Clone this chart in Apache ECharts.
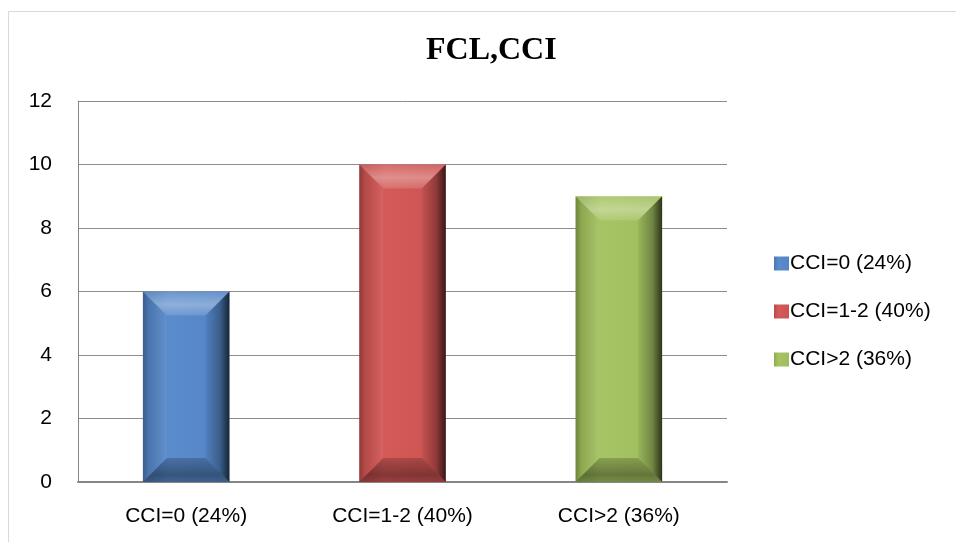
<!DOCTYPE html>
<html>
<head>
<meta charset="utf-8">
<script src="https://cdn.jsdelivr.net/npm/echarts@6/dist/echarts.min.js"></script>
<style>
html,body{margin:0;padding:0;background:#fff;}
#chart{width:956px;height:542px;}
</style>
</head>
<body>
<div id="chart"></div>
<script>
const categories = ['CCI=0 (24%)', 'CCI=1-2 (40%)', 'CCI>2 (36%)'];
const seriesNames = ['CCI=0 (24%)', 'CCI=1-2 (40%)', 'CCI>2 (36%)'];
const values = [6, 10, 9];
const yTicks = [0, 2, 4, 6, 8, 10, 12];
const titleText = 'FCL,CCI';

const faceColors = [
  ['#4a77b2', '#5a8bcb', '#5385c6'],
  ['#b84a48', '#d45a58', '#cc5351'],
  ['#8fab50', '#a6c463', '#9fbd5c']
];

const FONT = 'Liberation Sans';
const BAR_FRAC = 0.4;

function grad(c) {
  return new echarts.graphic.LinearGradient(0, 0, 1, 0, [
    { offset: 0, color: c[0] },
    { offset: 0.3, color: c[1] },
    { offset: 1, color: c[2] }
  ]);
}

const barSeries = seriesNames.map((name, i) => ({
  name: name,
  type: 'bar',
  barWidth: (BAR_FRAC * 100) + '%',
  barGap: '-100%',
  data: categories.map((c, j) => (j === i ? values[j] : '-')),
  itemStyle: { color: grad(faceColors[i]) },
  z: 2
}));

const bevelSeries = {
  name: 'bevel',
  type: 'custom',
  silent: true,
  z: 3,
  data: values.map((v, i) => [i, v]),
  renderItem: function (params, api) {
    const top = api.coord([api.value(0), api.value(1)]);
    const bot = api.coord([api.value(0), 0]);
    const w = api.size([1, 0])[0] * BAR_FRAC;
    const x0 = top[0] - w / 2, x1 = top[0] + w / 2;
    const y0 = top[1], y1 = bot[1];
    const b = Math.min(24, w / 2, (y1 - y0) / 2);
    const L = echarts.graphic.LinearGradient;
    return {
      type: 'group',
      children: [
        {
          type: 'polygon',
          shape: { points: [[x0, y0], [x1, y0], [x1 - b, y0 + b], [x0 + b, y0 + b]] },
          style: { fill: new L(0, 0, 0, 1, [
            { offset: 0, color: 'rgba(255,255,255,0.10)' },
            { offset: 0.55, color: 'rgba(255,255,255,0.32)' },
            { offset: 1, color: 'rgba(255,255,255,0.12)' }
          ]) }
        },
        {
          type: 'polygon',
          shape: { points: [[x0, y1], [x1, y1], [x1 - b, y1 - b], [x0 + b, y1 - b]] },
          style: { fill: new L(0, 0, 0, 1, [
            { offset: 0, color: 'rgba(0,0,0,0.18)' },
            { offset: 0.7, color: 'rgba(0,0,0,0.38)' },
            { offset: 1, color: 'rgba(0,0,0,0.28)' }
          ]) }
        },
        {
          type: 'polygon',
          shape: { points: [[x1, y0], [x1, y1], [x1 - b, y1 - b], [x1 - b, y0 + b]] },
          style: { fill: new L(0, 0, 1, 0, [
            { offset: 0, color: 'rgba(0,0,0,0.05)' },
            { offset: 0.6, color: 'rgba(0,0,0,0.30)' },
            { offset: 1, color: 'rgba(0,0,0,0.72)' }
          ]) }
        },
        {
          type: 'polygon',
          shape: { points: [[x0, y0], [x0 + b, y0 + b], [x0 + b, y1 - b], [x0, y1]] },
          style: { fill: new L(0, 0, 1, 0, [
            { offset: 0, color: 'rgba(0,0,0,0.22)' },
            { offset: 0.25, color: 'rgba(0,0,0,0.05)' },
            { offset: 1, color: 'rgba(255,255,255,0.06)' }
          ]) }
        }
      ]
    };
  }
};

const chart = echarts.init(document.getElementById('chart'), null, { renderer: 'canvas' });
chart.setOption({
  animation: false,
  backgroundColor: '#ffffff',
  graphic: [{
    type: 'rect',
    silent: true,
    shape: { x: 8.5, y: 11.5, width: 1000, height: 1000 },
    style: { fill: 'none', stroke: '#d9d9d9', lineWidth: 1 }
  }],
  title: {
    text: titleText,
    left: 421,
    top: 30,
    textStyle: { fontFamily: 'Liberation Serif', fontWeight: 'bold', fontSize: 32, color: '#000' }
  },
  legend: {
    orient: 'vertical',
    left: 769,
    top: 248,
    data: seriesNames,
    icon: 'rect',
    itemWidth: 15,
    itemHeight: 14,
    itemGap: 27,
    textStyle: { fontFamily: FONT, fontSize: 21, color: '#000', lineHeight: 21, padding: [0, 0, 0, -4] }
  },
  grid: { left: 78, right: 229, top: 101, bottom: 60, containLabel: false },
  xAxis: {
    type: 'category',
    data: categories,
    axisLine: { show: true, lineStyle: { color: '#868686', width: 2 } },
    axisTick: { show: false },
    axisLabel: { fontFamily: FONT, fontSize: 21, color: '#000', margin: 24 },
    splitLine: { show: false }
  },
  yAxis: {
    type: 'value',
    min: yTicks[0],
    max: yTicks[yTicks.length - 1],
    interval: yTicks[1] - yTicks[0],
    axisLine: { show: true, lineStyle: { color: '#868686', width: 1 } },
    axisTick: { show: false },
    axisLabel: { fontFamily: FONT, fontSize: 21, color: '#000', margin: 26 },
    splitLine: { show: true, lineStyle: { color: '#8c8c8c', width: 1 } }
  },
  series: barSeries.concat([bevelSeries])
});
</script>
</body>
</html>
